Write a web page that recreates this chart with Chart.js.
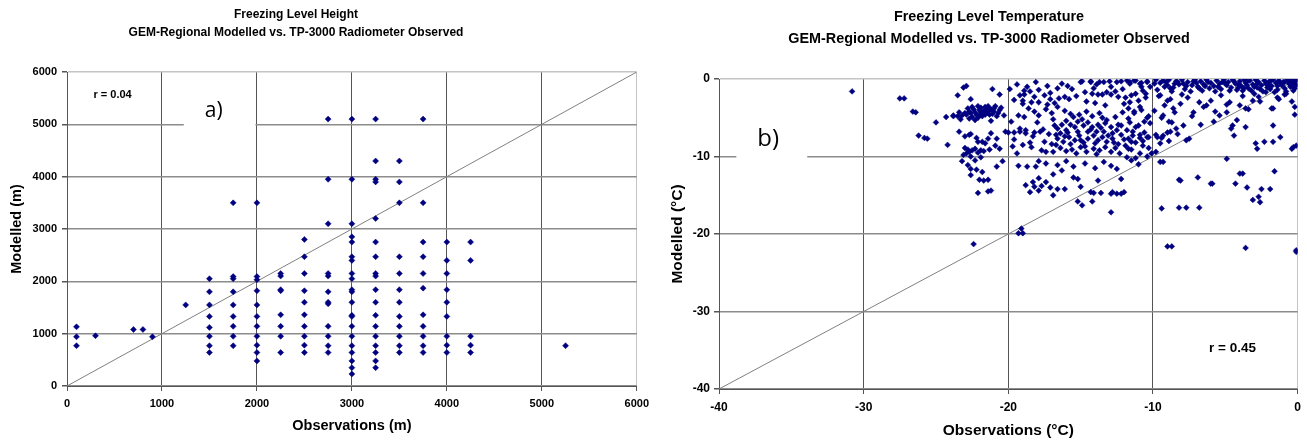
<!DOCTYPE html>
<html>
<head>
<meta charset="utf-8">
<script src="https://cdn.jsdelivr.net/npm/chart.js@4.4.0/dist/chart.umd.min.js"></script>
<style>
body { margin: 0; background: #fff; }
#wrap { position: relative; width: 1307px; height: 440px; }
canvas { position: absolute; top: 0; }
#alturaChart { left: 0; }
#tempChart { left: 655px; }
</style>
</head>
<body>
<div id="wrap">
<canvas id="alturaChart" width="655" height="440"></canvas>
<canvas id="tempChart" width="652" height="440"></canvas>
</div>
<script>
// ---- Datos a) altura del nivel de congelacion (m) ----
const heightObs = [100, 300, 700, 800, 900, 1250, 1500, 1750, 2000, 2250, 2500, 2750, 3000, 3250, 3500, 3750, 4000, 4250, 5250];
const heightMod = [
    [1130, 940, 770],
    [960],
    [1080],
    [1080],
    [940],
    [1550],
    [2050, 1800, 1550, 1330, 1120, 950, 770, 640],
    [3500, 2090, 2050, 1800, 1550, 1330, 1140, 950, 770],
    [3500, 2090, 2030, 1820, 1550, 1330, 1140, 950, 780, 640, 480],
    [2150, 2100, 1840, 1820, 1360, 1140, 950, 640],
    [2800, 2470, 2150, 1820, 1600, 1360, 1140, 950, 780, 640],
    [5100, 3950, 3100, 2150, 2100, 1800, 1600, 1570, 1140, 950, 770, 640],
    [5100, 3950, 3100, 2850, 2750, 2470, 2400, 2150, 2050, 1840, 1800, 1600, 1350, 1330, 1140, 950, 770, 640, 480, 350, 230],
    [5100, 4300, 3950, 3900, 3200, 2750, 2470, 2150, 2100, 1840, 1600, 1350, 1140, 950, 770, 640, 480, 350],
    [4300, 3900, 3500, 2470, 2150, 1840, 1600, 1330, 1140, 950, 770, 640],
    [5100, 3500, 2750, 2470, 2150, 1870, 1360, 1140, 950, 770, 640],
    [2750, 2400, 2150, 1840, 1600, 1330, 950, 780, 640],
    [2750, 2400, 950, 780, 640],
    [770]
];
const heightDiag = [0, 6000];

// ---- Datos b) temperatura del nivel de congelacion (°C) [obs, mod] ----
const tempColdPts = [
    [-30.8,-1.6],[-27.5,-2.5],[-27.2,-2.5],[-26.6,-4.2],[-26.4,-4.3],[-26.2,-7.3],[-25.8,-7.6],[-25.6,-7.7],
    [-25.0,-5.6],[-24.2,-8.5],[-23.8,-4.8],[-24.3,-4.9],
    [-23.5,-2.1],[-23.1,-1.1],[-22.6,-2.6],[-21.1,-1.3],[-20.6,-2.0],[-22.9,-0.9],
    [-23.8,-4.7],[-23.5,-4.8],[-23.2,-4.7],[-23.0,-4.4],[-22.9,-4.6],[-22.7,-4.2],[-22.6,-4.4],[-22.5,-4.9],
    [-22.4,-3.9],[-22.3,-4.3],[-22.2,-4.6],[-22.1,-3.5],[-22.0,-4.0],[-21.9,-3.7],[-21.9,-4.4],[-21.8,-4.8],
    [-21.7,-4.1],[-21.6,-3.6],[-21.5,-4.3],[-21.4,-3.5],[-21.3,-4.0],[-21.2,-3.9],[-21.2,-5.4],[-21.1,-4.5],
    [-21.0,-4.2],[-20.9,-3.5],[-20.8,-4.8],[-20.6,-4.0],[-20.5,-3.7],[-20.3,-4.7],[-22.1,-5.0],[-22.7,-5.1],
    [-23.3,-5.2],[-21.6,-4.6],[-22.8,-3.8],[-21.5,-3.9],
    [-22.5,-3.6],[-22.0,-4.7],[-21.3,-4.6],[-20.7,-4.4],[-23.4,-4.3],[-21.0,-3.8],[-22.3,-5.3],
    [-23.4,-6.8],[-23.0,-7.4],[-22.7,-7.2],[-22.6,-7.1],[-22.2,-7.6],[-21.4,-7.7],[-21.2,-7.0],[-20.8,-7.7],
    [-20.2,-6.8],[-20.0,-6.9],[-21.8,-8.1],[-22.1,-8.1],[-21.6,-8.3],[-22.3,-9.0],[-22.7,-9.4],[-22.9,-9.6],
    [-22.1,-9.5],[-21.7,-9.3],[-23.0,-8.9],[-22.8,-9.1],[-22.5,-9.2],[-21.9,-9.2],[-21.3,-9.1],[-23.1,-9.8],
    [-22.6,-10.0],[-22.3,-10.5],[-21.9,-10.1],[-20.6,-9.0],[-20.9,-8.6],
    [-23.2,-10.6],[-22.8,-11.1],[-22.2,-11.7],[-21.8,-12.0],[-22.6,-12.4],[-22.0,-13.0],[-21.4,-13.0],
    [-21.7,-13.1],[-22.1,-14.7],[-21.4,-14.5],[-21.2,-14.4],[-20.8,-11.3],[-20.4,-10.6],[-22.6,-11.6],
    [-22.4,-21.3]
];
const tempMidPts = [
    [-18.7,-1.0],[-18.5,-1.6],[-18.9,-2.0],[-18.2,-2.3],[-17.9,-3.0],[-17.5,-2.1],[-17.1,-2.6],[-16.8,-3.1],
    [-16.5,-2.5],[-16.1,-2.3],[-15.8,-2.6],[-14.7,-1.7],[-15.0,-0.4],[-14.3,-0.4],[-13.9,-0.7],[-13.4,-0.4],
    [-12.9,-1.0],[-12.5,-0.4],[-12.1,-1.3],[-11.6,-0.4],[-14.2,-1.9],[-13.8,-2.0],[-13.5,-2.0],[-13.2,-1.7],
    [-12.9,-2.0],[-12.4,-2.3],[-12.0,-3.2],[-11.6,-3.0],[-13.3,-3.4],[-14.0,-3.1],[-14.6,-2.9],[-19.6,-2.7],
    [-19.0,-3.2],[-16.3,-0.6],[-17.3,-0.9],[-15.6,-1.3],[-11.2,-1.9],[-10.8,-0.5],[-10.5,-2.4],[-11.0,-2.8],
    [-14.9,-0.3],[-14.3,-0.3],[-13.7,-0.4],[-12.2,-0.3],[-11.8,-0.2],[-11.3,-0.2],[-10.9,-0.6],[-10.4,-0.3],
    [-10.2,-1.0],[-18.9,-1.5],[-18.4,-3.0],[-19.0,-2.8],[-17.3,-3.3],
    [-19.9,-1.3],[-19.4,-0.7],[-17.9,-1.4],[-17.1,-1.8],[-16.6,-1.2],[-15.9,-0.9],[-15.3,-2.2],[-14.1,-1.2],
    [-13.0,-0.3],[-12.6,-1.6],[-11.9,-2.4],[-10.7,-1.5],[-18.1,-0.4],[-19.2,-2.1],
    [-19.3,-4.7],[-18.9,-4.9],[-18.6,-3.8],[-18.2,-4.2],[-17.9,-4.7],[-17.4,-3.9],[-17.0,-4.4],[-16.6,-3.6],
    [-16.1,-4.1],[-15.7,-4.5],[-15.5,-4.9],[-15.1,-4.6],[-14.6,-4.2],[-14.2,-4.8],[-13.7,-4.4],[-13.2,-5.3],
    [-12.6,-4.9],[-12.1,-4.3],[-11.7,-5.1],[-11.3,-4.4],[-10.8,-4.0],[-10.4,-5.0],[-19.8,-5.5],[-18.0,-5.6],
    [-16.9,-5.2],
    [-16.6,-6.4],[-16.3,-5.9],[-16.0,-6.6],[-15.7,-5.9],[-15.2,-5.5],[-14.8,-6.0],[-14.5,-5.6],[-14.2,-6.2],
    [-13.8,-5.9],[-13.3,-5.7],[-12.9,-6.2],[-12.4,-5.9],[-12.2,-6.0],
    [-16.6,-7.7],[-16.2,-8.1],[-15.8,-7.5],[-15.4,-7.9],[-15.1,-7.3],[-14.8,-8.2],[-14.5,-7.7],[-14.1,-7.3],
    [-13.8,-7.9],[-13.5,-7.5],[-13.2,-8.1],[-12.8,-7.7],[-12.4,-8.4],
    [-16.4,-8.9],[-16.0,-9.3],[-15.6,-9.1],[-15.0,-8.8],[-14.6,-9.4],[-14.1,-9.0],[-13.7,-9.2],[-13.3,-8.8],
    [-12.9,-9.4],[-12.6,-8.9],[-11.9,-8.6],[-11.5,-8.1],
    [-15.9,-6.9],[-15.2,-6.8],[-14.5,-6.8],[-13.9,-6.8],[-13.4,-6.8],[-12.8,-7.0],[-12.2,-7.2],[-11.8,-6.6],
    [-11.4,-7.3],[-10.9,-7.6],[-10.6,-6.9],[-11.2,-6.2],[-10.7,-8.0],[-10.3,-7.5],
    [-16.8,-6.0],[-16.4,-7.0],[-16.1,-7.4],[-15.7,-8.4],[-15.4,-6.2],[-15.0,-7.9],[-14.7,-8.7],[-14.3,-6.5],
    [-14.0,-8.3],[-13.6,-6.3],[-13.1,-7.3],[-12.7,-8.2],[-12.5,-6.6],[-12.0,-7.8],[-11.7,-9.0],[-13.9,-9.7],
    [-15.3,-9.6],[-16.7,-8.5],[-12.3,-9.6],[-14.9,-5.2],[-13.5,-5.0],[-16.0,-5.4],
    [-17.7,-9.2],[-17.4,-9.4],[-16.9,-9.4],[-17.2,-7.1],[-17.6,-6.5],[-18.3,-7.4],[-18.8,-7.0],[-19.2,-6.4],
    [-18.5,-8.2],[-19.6,-7.8],[-19.4,-9.6],[-17.0,-8.4],[-19.6,-6.9],[-19.2,-6.8],[-18.8,-6.6],[-18.2,-6.9],
    [-17.8,-6.8],[-17.5,-8.1],[-16.7,-7.2],[-19.7,-8.7],[-19.0,-8.5],[-18.4,-8.8],
    [-11.6,-0.6],[-11.2,-0.2],[-10.8,-1.0],[-10.4,-0.4],[-11.5,-2.1],[-10.5,-1.9],[-11.7,-3.8],[-11.3,-4.2],
    [-10.9,-3.6],[-10.3,-4.8],[-11.6,-5.6],[-11.0,-6.0],[-10.6,-5.5],[-10.2,-5.7],[-11.4,-6.8],[-10.9,-7.2],
    [-10.4,-7.5],[-11.7,-7.7],[-11.2,-8.2],[-10.7,-8.6],[-10.3,-8.9],[-11.5,-9.1],[-10.9,-9.6],[-10.4,-10.0],
    [-10.1,-9.6],[-11.2,-10.2],[-11.8,-10.1],
    [-19.3,-11.2],[-18.7,-11.3],[-18.1,-11.3],[-17.4,-10.9],[-17.9,-10.6],[-16.6,-11.1],[-18.3,-13.3],
    [-17.9,-14.4],[-17.4,-13.3],[-16.6,-14.2],[-16.1,-14.2],[-15.5,-12.7],[-15.2,-12.9],[-15.0,-13.9],
    [-13.8,-13.1],[-14.3,-14.6],[-14.1,-14.7],[-13.6,-14.7],[-12.9,-14.8],[-12.5,-14.8],[-12.2,-14.8],
    [-12.8,-14.6],[-12.2,-12.9],[-12.0,-14.6],[-15.2,-15.8],[-14.9,-16.3],[-14.2,-15.8],[-12.9,-17.2],
    [-14.7,-10.9],[-13.4,-10.7],[-12.9,-11.2],[-12.5,-11.6],[-14.0,-11.5],[-16.0,-10.6],[-15.5,-11.3],
    [-11.5,-10.5],[-11.0,-11.0],[-16.3,-11.8],[-16.9,-12.3],[-17.9,-12.8],[-18.8,-13.7],[-18.2,-13.9],
    [-17.7,-13.8],[-17.1,-14.0],[-16.9,-15.0],[-18.5,-14.6],
    [-19.1,-19.3],[-19.3,-19.9],[-19.0,-19.9]
];
const tempWarmPts = [
    [-9.8,-0.1],[-9.5,-0.5],[-9.3,-0.2],[-9.0,-0.8],[-8.9,-0.1],[-8.6,-1.1],[-8.4,-0.3],[-8.2,-0.7],
    [-8.0,-0.1],[-7.8,-1.3],[-7.6,-0.4],[-7.3,-0.8],[-7.1,-0.1],[-6.9,-1.0],[-6.7,-0.3],[-6.5,-0.7],
    [-6.3,-0.1],[-6.1,-1.2],[-6.0,-0.5],[-5.8,-0.9],[-5.6,-0.2],[-5.4,-0.6],[-5.3,-1.3],[-5.1,-0.1],
    [-4.9,-0.8],[-4.8,-0.4],[-4.6,-1.1],[-4.5,-0.1],[-4.3,-0.6],[-4.2,-1.4],[-4.0,-0.3],[-3.9,-0.9],
    [-3.7,-0.1],[-3.6,-0.5],[-3.4,-1.2],[-3.3,-0.2],[-3.1,-0.7],[-3.0,-1.0],[-2.9,-0.1],[-2.7,-0.4],
    [-2.6,-1.3],[-2.5,-0.8],[-2.3,-0.2],[-2.2,-0.6],[-2.1,-1.1],[-1.9,-0.3],[-1.8,-0.9],[-1.7,-0.1],
    [-1.5,-0.5],[-1.4,-1.4],[-1.3,-0.2],[-1.1,-0.8],[-1.0,-0.4],[-0.9,-1.2],[-0.7,-0.1],[-0.6,-0.6],
    [-0.5,-1.0],[-0.4,-0.2],[-0.3,-1.5],[-0.2,-0.4],[-0.1,-0.8],[-0.1,-0.1],
    [-9.7,-1.4],[-9.2,-1.0],[-8.7,-1.6],[-8.3,-0.4],[-7.9,-0.6],[-7.4,-1.6],[-7.0,-0.5],[-6.6,-1.5],
    [-6.2,-0.4],[-5.7,-1.6],[-5.2,-0.4],[-4.7,-1.5],[-4.4,-0.3],[-4.1,-0.7],[-3.8,-1.5],[-3.5,-0.8],
    [-3.2,-1.5],[-2.8,-0.6],[-2.4,-1.6],[-2.0,-0.8],[-1.6,-1.7],[-1.2,-0.5],[-0.8,-1.6],[-0.4,-0.9],
    [-0.2,-1.2],
    [-9.9,-0.6],[-9.1,-0.4],[-8.5,-0.6],[-7.7,-0.9],[-7.2,-0.3],[-6.4,-0.9],[-5.5,-1.0],[-5.0,-0.6],
    [-4.1,-1.1],[-3.5,-0.3],[-2.8,-1.1],[-2.0,-0.4],[-1.4,-0.9],[-0.9,-0.4],[-0.3,-0.6],[-0.6,-0.3],
    [-1.9,-1.3],[-3.7,-1.2],[-6.8,-1.2],[-8.8,-1.2],
    [-9.5,-2.1],[-9.0,-2.8],[-8.6,-3.8],[-9.3,-4.7],[-8.9,-5.5],[-8.4,-6.4],[-7.9,-6.0],[-9.3,-7.3],
    [-8.8,-6.8],[-7.7,-7.9],[-7.5,-7.7],[-8.1,-3.2],[-7.6,-2.4],[-7.2,-4.3],[-6.8,-3.0],[-6.3,-3.4],
    [-5.8,-5.5],[-5.4,-4.7],[-4.9,-4.3],[-4.5,-6.0],[-4.0,-3.4],[-4.7,-3.0],[-3.6,-3.8],[-3.1,-2.8],
    [-2.7,-2.3],[-2.2,-1.7],[-1.7,-3.8],[-1.3,-2.6],[-0.8,-1.9],[-0.4,-2.9],
    [-9.6,-2.2],[-9.2,-3.4],[-8.8,-2.6],[-8.5,-4.3],[-8.0,-2.0],[-7.3,-4.8],[-6.5,-3.6],[-6.0,-2.8],
    [-5.7,-4.2],[-5.3,-2.1],[-4.9,-3.3],[-4.2,-5.3],[-3.8,-2.2],[-3.4,-3.9],[-3.0,-1.9],[-2.6,-2.9],
    [-1.8,-3.8],[-1.4,-2.4],[-0.9,-2.0],[-0.2,-3.6],[-0.2,-4.6],[-9.9,-4.1],[-9.4,-5.0],[-8.7,-5.6],
    [-9.0,-6.9],[-9.7,-7.5],[-8.3,-7.1],[-9.5,-8.3],[-9.8,-9.4],[-9.8,-7.2],[-9.4,-7.6],[-8.9,-8.0],
    [-6.7,-5.9],[-4.6,-6.4],[-4.4,-7.3],[-3.6,-6.2],[-1.7,-6.0],[-1.2,-7.5],[-1.7,-8.1],[-2.3,-8.1],
    [-2.9,-8.3],[-2.8,-9.0],[-0.3,-8.8],[-0.1,-8.6],[-0.4,-9.0],
    [-9.5,-10.7],[-9.3,-10.7],[-8.2,-13.0],[-8.1,-13.1],[-6.9,-12.7],[-6.0,-13.5],[-5.9,-13.5],[-4.9,-10.3],
    [-4.3,-13.5],[-4.0,-12.2],[-3.8,-12.2],[-3.5,-14.0],[-3.1,-15.6],[-2.7,-15.2],[-2.6,-15.9],[-2.5,-14.2],
    [-1.9,-14.2],[-1.6,-11.9],[-9.4,-16.7],[-8.2,-16.6],[-7.7,-16.6],[-6.8,-16.6],[-9.0,-21.6],[-8.7,-21.6],
    [-3.6,-21.8],[-0.1,-22.1],[-0.1,-22.3]
];
const tempDiag = [-40, 0];

const COLOR_PUNTO = '#000080';
Chart.defaults.font.family = "'Liberation Sans', Arial, sans-serif";
Chart.defaults.color = '#000';

// Plugin para titulos, notas y cuadros blancos
const textosPlugin = {
    id: 'textos',
    beforeDatasetsDraw(chart, args, opts) {
        const ctx = chart.ctx;
        const xs = chart.scales.x, ys = chart.scales.y;
        ctx.save();
        ctx.fillStyle = '#fff';
        (opts.boxes || []).forEach(b => {
            const x1 = xs.getPixelForValue(b.x0), x2 = xs.getPixelForValue(b.x1);
            const y1 = ys.getPixelForValue(b.y0), y2 = ys.getPixelForValue(b.y1);
            ctx.fillRect(Math.min(x1, x2), Math.min(y1, y2), Math.abs(x2 - x1), Math.abs(y2 - y1));
        });
        ctx.restore();
    },
    afterDraw(chart, args, opts) {
        const ctx = chart.ctx;
        const xs = chart.scales.x, ys = chart.scales.y;
        ctx.save();
        ctx.fillStyle = '#000';
        ctx.textAlign = 'center';
        ctx.textBaseline = 'middle';
        (opts.titles || []).forEach(t => {
            ctx.font = t.font;
            ctx.fillText(t.text, t.x, t.y);
        });
        (opts.notes || []).forEach(n => {
            ctx.font = n.font;
            ctx.fillText(n.text, xs.getPixelForValue(n.x), ys.getPixelForValue(n.y));
        });
        ctx.restore();
    }
};

function escala(min, max, paso, opts) {
    return {
        type: 'linear',
        min: min,
        max: max,
        ticks: {
            stepSize: paso,
            color: '#000',
            font: { size: opts.tickSize, weight: 'bold' },
            padding: opts.tickPad,
            maxRotation: 0,
            callback: v => String(v)
        },
        grid: {
            color: ctx => (ctx.tick && ctx.tick.value === max) ? '#c4c4c4' : opts.gridColor,
            lineWidth: opts.gridWidth,
            tickLength: 5,
            tickColor: '#555'
        },
        border: { color: '#555', width: 1 },
        title: {
            display: true,
            text: opts.title,
            color: '#000',
            font: { size: opts.titleSize, weight: 'bold' },
            padding: opts.titlePad
        },
        afterFit: opts.fit
    };
}

// ---- Grafico a) ----
const heightPoints = [];
heightObs.forEach((obs, i) => {
    heightMod[i].forEach(m => heightPoints.push({ x: obs, y: m }));
});

new Chart(document.getElementById('alturaChart'), {
    type: 'scatter',
    data: {
        datasets: [{
            data: heightDiag.map(v => ({ x: v, y: v })),
            showLine: true,
            borderColor: '#808080',
            borderWidth: 1,
            pointRadius: 0,
            order: 2
        }, {
            data: heightPoints,
            pointStyle: 'rectRot',
            pointRadius: 3,
            backgroundColor: COLOR_PUNTO,
            borderColor: COLOR_PUNTO,
            borderWidth: 0.5,
            order: 1
        }]
    },
    options: {
        responsive: false,
        animation: false,
        layout: { padding: { top: 72, right: 17, left: 0, bottom: 0 } },
        plugins: {
            legend: { display: false },
            tooltip: { enabled: false },
            textos: {
                titles: [
                    { text: 'Freezing Level Height', x: 296, y: 15, font: "bold 12px 'Liberation Sans', Arial" },
                    { text: 'GEM-Regional Modelled vs. TP-3000 Radiometer Observed', x: 296, y: 33, font: "bold 12px 'Liberation Sans', Arial" }
                ],
                notes: [
                    { text: 'r = 0.04', x: 480, y: 5560, font: "bold 11px 'Liberation Sans', Arial" },
                    { text: 'a)', x: 1545, y: 5260, font: "21px 'Open Sans', sans-serif" }
                ],
                boxes: [{ x0: 1230, x1: 1985, y0: 5560, y1: 4900 }]
            }
        },
        scales: {
            x: escala(0, 6000, 1000, {
                tickSize: 11, tickPad: 6, gridColor: '#555', gridWidth: 1,
                title: 'Observations (m)', titleSize: 14.5, titlePad: { top: 0, bottom: 5 },
                fit: s => { s.height = 54; }
            }),
            y: escala(0, 6000, 1000, {
                tickSize: 11, tickPad: 5, gridColor: '#8c8c8c', gridWidth: 1.5,
                title: 'Modelled (m)', titleSize: 14.5, titlePad: { top: 8, bottom: 0 },
                fit: s => { s.width = 67; }
            })
        }
    },
    plugins: [textosPlugin]
});

// ---- Grafico b) ----
const tempPoints = tempColdPts.concat(tempMidPts, tempWarmPts).map(p => ({ x: p[0], y: p[1] }));

new Chart(document.getElementById('tempChart'), {
    type: 'scatter',
    data: {
        datasets: [{
            data: tempDiag.map(v => ({ x: v, y: v })),
            showLine: true,
            borderColor: '#808080',
            borderWidth: 1,
            pointRadius: 0,
            order: 2
        }, {
            data: tempPoints,
            pointStyle: 'rectRot',
            pointRadius: 2.9,
            backgroundColor: COLOR_PUNTO,
            borderColor: COLOR_PUNTO,
            borderWidth: 0.5,
            order: 1
        }]
    },
    options: {
        responsive: false,
        animation: false,
        layout: { padding: { top: 79, right: 5, left: 0, bottom: 0 } },
        plugins: {
            legend: { display: false },
            tooltip: { enabled: false },
            textos: {
                titles: [
                    { text: 'Freezing Level Temperature', x: 334, y: 17, font: "bold 14.4px 'Liberation Sans', Arial" },
                    { text: 'GEM-Regional Modelled vs. TP-3000 Radiometer Observed', x: 334, y: 39, font: "bold 14.4px 'Liberation Sans', Arial" }
                ],
                notes: [
                    { text: 'r = 0.45', x: -4.5, y: -34.8, font: "bold 13.5px 'Liberation Sans', Arial" },
                    { text: 'b)', x: -36.6, y: -7.7, font: "24px 'Open Sans', sans-serif" }
                ],
                boxes: [{ x0: -38.8, x1: -33.9, y0: -5.3, y1: -10.8 }]
            }
        },
        scales: {
            x: escala(-40, 0, 10, {
                tickSize: 12, tickPad: 6, gridColor: '#555', gridWidth: 1,
                title: 'Observations (°C)', titleSize: 15.5, titlePad: { top: 0, bottom: 0 },
                fit: s => { s.height = 51; }
            }),
            y: escala(-40, 0, 10, {
                tickSize: 12, tickPad: 4, gridColor: '#8c8c8c', gridWidth: 1.5,
                title: 'Modelled (°C)', titleSize: 15.5, titlePad: { top: 13, bottom: 0 },
                fit: s => { s.width = 64; }
            })
        }
    },
    plugins: [textosPlugin]
});
</script>
</body>
</html>
